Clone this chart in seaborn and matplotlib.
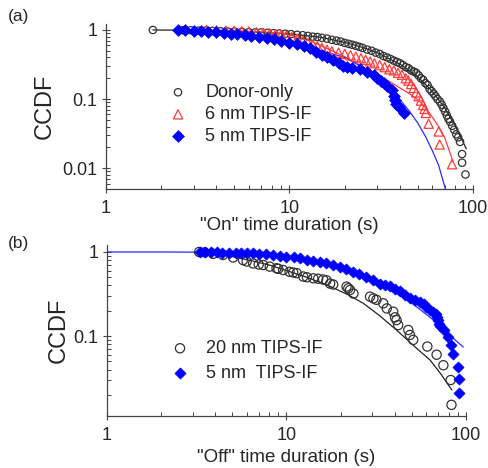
import matplotlib
matplotlib.use("Agg")
import matplotlib.pyplot as plt
import seaborn as sns
import pandas as pd
from matplotlib.ticker import FixedLocator, LogLocator, NullFormatter

# ---------------- data: panel (a) "On" times ----------------
donor_x = [1.8, 2.62, 2.9, 3.2, 3.5, 3.8, 4.2, 4.6, 5.0, 5.5, 6.0, 6.5, 7.0, 7.6, 8.2, 8.8,
           9.5, 10.2, 11.0, 11.8, 12.6, 13.4, 14.2, 15.0, 16.0, 17.0, 18.0, 19.0, 20.0, 21.0,
           22.0, 23.0, 24.0, 25.0, 26.5, 28.0, 29.5, 31.0, 32.5, 34.0, 35.5, 37.0, 38.5, 40.0,
           41.5, 43.0, 44.5, 46.0, 47.5, 49.0, 50.5, 52.0, 53.5, 55.0, 56.5, 58.0, 59.5, 61.0,
           62.5, 64.0, 66.0, 67.5, 69.0, 70.5, 72.0, 73.5, 75.0, 77.0, 79.0, 81.0, 83.0, 85.0,
           87.2, 87.2, 91.0]
donor_y = [1.0, 0.99, 0.99, 0.98, 0.98, 0.97, 0.96, 0.95, 0.95, 0.94, 0.93, 0.92, 0.92, 0.91,
           0.90, 0.89, 0.88, 0.87, 0.85, 0.84, 0.82, 0.80, 0.79, 0.77, 0.75, 0.72, 0.70, 0.68,
           0.65, 0.63, 0.61, 0.59, 0.57, 0.55, 0.52, 0.50, 0.47, 0.45, 0.42, 0.40, 0.38, 0.36,
           0.345, 0.33, 0.31, 0.29, 0.28, 0.26, 0.25, 0.24, 0.22, 0.20, 0.19, 0.17, 0.16, 0.14,
           0.13, 0.12, 0.11, 0.10, 0.092, 0.083, 0.074, 0.066, 0.058, 0.052, 0.047, 0.041,
           0.036, 0.031, 0.028, 0.024, 0.016, 0.012, 0.0081]
donor_fit_x = [1.8, 3, 5, 8, 10, 15, 20, 25, 30, 40, 50, 60, 70, 80, 92]
donor_fit_y = [1.0, 0.99, 0.96, 0.91, 0.88, 0.78, 0.66, 0.56, 0.47, 0.32, 0.21, 0.13, 0.075, 0.041, 0.019]

tips6_x = [3.54, 4.0, 4.5, 5.0, 5.5, 6.0, 6.6, 7.2, 7.8, 8.4, 9.0, 9.6, 10.3, 11.0, 11.8, 12.6,
           13.4, 14.2, 15.0, 16.0, 17.0, 18.5, 20.0, 21.5, 23.0, 24.5, 26.0, 27.5, 29.0, 31.0,
           33.0, 35.0, 37.0, 39.0, 41.0, 43.0, 44.5, 46.0, 47.5, 49.0, 50.5, 52.0, 53.5, 54.5,
           55.3, 57.3, 65.0, 65.8, 76.9]
tips6_y = [1.0, 0.99, 0.98, 0.97, 0.96, 0.95, 0.93, 0.91, 0.89, 0.87, 0.85, 0.82, 0.79, 0.75,
           0.70, 0.65, 0.61, 0.58, 0.55, 0.52, 0.49, 0.47, 0.45, 0.43, 0.41, 0.39, 0.37, 0.35,
           0.33, 0.31, 0.29, 0.27, 0.26, 0.24, 0.225, 0.20, 0.185, 0.165, 0.145, 0.125, 0.11,
           0.095, 0.082, 0.072, 0.063, 0.044, 0.034, 0.022, 0.0114]
tips6_fit_x = [3.54, 5, 8, 10, 13, 17, 20, 25, 30, 35, 40, 45, 50, 55, 60, 65, 70, 77.9]
tips6_fit_y = [1.0, 0.98, 0.92, 0.85, 0.70, 0.50, 0.41, 0.29, 0.22, 0.18, 0.145, 0.12, 0.098,
               0.075, 0.055, 0.040, 0.028, 0.0124]

tips5_x = [2.48, 2.7, 3.0, 3.3, 3.6, 4.0, 4.4, 4.8, 5.2, 5.7, 6.2, 6.8, 7.5, 8.2, 9.0, 10.0,
           11.0, 12.0, 13.0, 14.0, 15.0, 16.0, 17.3, 18.5, 19.5, 20.6, 22.0, 24.3, 26.4, 28.7,
           30.0, 31.5, 32.6, 34.0, 36.2, 36.9, 37.5, 38.0, 39.5, 41.9]
tips5_y = [1.0, 0.99, 0.98, 0.97, 0.95, 0.93, 0.91, 0.88, 0.86, 0.84, 0.82, 0.80, 0.77, 0.73,
           0.69, 0.65, 0.62, 0.58, 0.54, 0.48, 0.43, 0.40, 0.37, 0.33, 0.30, 0.29, 0.28, 0.27,
           0.25, 0.22, 0.20, 0.18, 0.169, 0.155, 0.135, 0.11, 0.097, 0.085, 0.077, 0.063]
tips5_fit_x = [2.48, 4, 6, 8, 10, 15, 20, 25, 30, 35, 40, 45, 50, 55, 60, 65, 70.7]
tips5_fit_y = [1.0, 0.95, 0.86, 0.76, 0.67, 0.50, 0.40, 0.29, 0.21, 0.14, 0.098, 0.067, 0.045,
               0.029, 0.018, 0.011, 0.005]

# ---------------- data: panel (b) "Off" times ----------------
off20_x = [3.26, 3.5, 3.9, 4.43, 5.04, 5.73, 6.0, 6.52, 7.0, 7.41, 8.07, 8.8, 9.0, 9.58, 10.4,
           10.9, 11.4, 12.4, 13.0, 14.1, 15.0, 16.0, 16.7, 17.5, 18.2, 21.6, 22.1, 22.6, 23.6,
           29.2, 30.5, 31.7, 34.6, 36.2, 39.3, 40.2, 41.0, 41.9, 47.7, 48.7, 50.8, 60.9, 68.6,
           74.8, 82.2, 83.0]
off20_y = [1.0, 0.99, 0.95, 0.92, 0.86, 0.80, 0.77, 0.73, 0.71, 0.70, 0.67, 0.64, 0.63, 0.61,
           0.58, 0.57, 0.56, 0.51, 0.50, 0.486, 0.48, 0.47, 0.46, 0.42, 0.41, 0.387, 0.37, 0.353,
           0.32, 0.294, 0.28, 0.27, 0.245, 0.213, 0.195, 0.167, 0.155, 0.135, 0.118, 0.103, 0.09,
           0.075, 0.06, 0.045, 0.030, 0.0152]
off20_fit_x = [3.26, 4, 5, 6.5, 8, 10, 13, 17.5, 22, 26.8, 33, 41, 50, 63, 72, 83.4]
off20_fit_y = [1.0, 0.95, 0.88, 0.78, 0.70, 0.60, 0.50, 0.39, 0.31, 0.245, 0.175, 0.118, 0.08,
               0.052, 0.036, 0.0228]

off5_x = [3.28, 3.5, 3.8, 4.1, 4.4, 4.8, 5.2, 5.6, 6.0, 6.5, 7.0, 7.7, 8.4, 9.2, 10.0, 11.0,
          11.9, 13.0, 14.0, 15.3, 16.7, 18.2, 19.8, 21.5, 23.5, 25.5, 27.9, 30.5, 33.2, 35.5,
          37.7, 40.0, 42.8, 45.5, 48.7, 52.0, 55.2, 58.0, 60.1, 63.0, 65.5, 68.0, 69.0, 70.0,
          71.0, 71.5, 75.0, 79.6, 83.0, 84.9, 90.0, 92.0, 92.0]
off5_y = [1.0, 1.0, 0.99, 0.99, 0.98, 0.98, 0.97, 0.97, 0.96, 0.96, 0.95, 0.94, 0.92, 0.90,
          0.88, 0.86, 0.84, 0.81, 0.79, 0.76, 0.73, 0.70, 0.67, 0.62, 0.58, 0.55, 0.51, 0.46,
          0.42, 0.40, 0.39, 0.36, 0.34, 0.31, 0.28, 0.27, 0.256, 0.24, 0.223, 0.205, 0.195,
          0.185, 0.17, 0.155, 0.14, 0.13, 0.118, 0.098, 0.079, 0.062, 0.043, 0.031, 0.0208]
off5_fit_x = [1, 2, 3, 5, 8, 10, 15, 20, 25, 30, 35, 44.8, 55, 65.8, 80, 96.6]
off5_fit_y = [1.0, 1.0, 0.995, 0.97, 0.91, 0.87, 0.74, 0.62, 0.52, 0.44, 0.38, 0.29, 0.21,
              0.155, 0.105, 0.074]

x_ticks = [1, 10, 100]
x_tick_labels = ["1", "10", "100"]
y_ticks_a = [0.01, 0.1, 1]
y_tick_labels_a = ["0.01", "0.1", "1"]
y_ticks_b = [0.1, 1]
y_tick_labels_b = ["0.1", "1"]

# ---------------- styling ----------------
sns.set_style("white")
plt.rcParams["font.family"] = ["Liberation Sans", "DejaVu Sans"]

W, H = 489, 468
fig = plt.figure(figsize=(W / 100, H / 100), dpi=100)
fig.patch.set_facecolor("white")


def px_axes(l, t, r, b):
    return fig.add_axes([l / W, 1 - b / H, (r - l) / W, (b - t) / H])


axA = px_axes(106, 24, 473, 189)
axB = px_axes(107, 245, 466, 416)

BLACK = "#333333"
RED = "#ff3b3b"
BLUE = "#0000ff"
LBLUE = "#2b2bff"


def style_axis(ax, yticks, ylabels, ylim):
    ax.set_xscale("log")
    ax.set_yscale("log")
    ax.set_xlim(1, 100)
    ax.set_ylim(*ylim)
    for s in ["top", "right"]:
        ax.spines[s].set_visible(False)
    for s in ["left", "bottom"]:
        ax.spines[s].set_color("#444444")
        ax.spines[s].set_linewidth(0.9)
    ax.xaxis.set_major_locator(FixedLocator(x_ticks))
    ax.set_xticklabels(x_tick_labels)
    ax.xaxis.set_minor_locator(LogLocator(base=10, subs=range(2, 10)))
    ax.xaxis.set_minor_formatter(NullFormatter())
    ax.yaxis.set_major_locator(FixedLocator(yticks))
    ax.set_yticklabels(ylabels)
    ax.yaxis.set_minor_locator(LogLocator(base=10, subs=range(2, 10)))
    ax.yaxis.set_minor_formatter(NullFormatter())
    ax.tick_params(which="major", direction="inout", length=6, width=0.8,
                   color="#444444", labelsize=13, pad=3)
    ax.tick_params(axis="x", which="major", pad=5)
    ax.tick_params(which="minor", direction="in", length=3, width=0.7, color="#444444")
    ax.tick_params(axis="x", which="both", bottom=True)
    ax.tick_params(axis="y", which="both", left=True)


style_axis(axA, y_ticks_a, y_tick_labels_a, (0.005, 1.22))
style_axis(axB, y_ticks_b, y_tick_labels_b, (0.0112, 1.21))

# ---------------- panel (a) ----------------
sns.lineplot(x=donor_fit_x, y=donor_fit_y, ax=axA, color="#222222", lw=0.9,
             estimator=None, sort=False, legend=False)
sns.lineplot(x=tips6_fit_x, y=tips6_fit_y, ax=axA, color=RED, lw=0.9,
             estimator=None, sort=False, legend=False)
sns.lineplot(x=tips5_fit_x, y=tips5_fit_y, ax=axA, color=LBLUE, lw=0.9,
             estimator=None, sort=False, legend=False)
sns.scatterplot(x=donor_x, y=donor_y, ax=axA, marker="o", s=28, facecolor="none",
                edgecolor=BLACK, linewidth=0.9, label="Donor-only", zorder=3)
sns.scatterplot(x=tips6_x, y=tips6_y, ax=axA, marker="^", s=44, facecolor="none",
                edgecolor=RED, linewidth=0.9, label="6 nm TIPS-IF", zorder=3)
sns.scatterplot(x=tips5_x, y=tips5_y, ax=axA, marker="D", s=36, color=BLUE,
                edgecolor=BLUE, linewidth=0.5, label="5 nm TIPS-IF", zorder=4)

axA.set_xlabel('"On" time duration (s)', fontsize=13.5, labelpad=2)
axA.set_ylabel("CCDF", fontsize=17)
axA.yaxis.set_label_coords((45 - 106) / (473 - 106), 0.5)
axA.xaxis.set_label_coords(0.5, -(225 - 189) / (189 - 24))
axA.xaxis.label.set_va("center")
axA.yaxis.label.set_va("center")

legA = axA.legend(loc="upper left", bbox_to_anchor=(169 / W, 1 - 84 / H),
                  bbox_transform=fig.transFigure, frameon=False, fontsize=13,
                  borderpad=0, borderaxespad=0, handlelength=1.0, handletextpad=1.0,
                  labelspacing=0.28)

# ---------------- panel (b) ----------------
sns.lineplot(x=off20_fit_x, y=off20_fit_y, ax=axB, color="#222222", lw=0.9,
             estimator=None, sort=False, legend=False)
sns.lineplot(x=off5_fit_x, y=off5_fit_y, ax=axB, color=LBLUE, lw=0.9,
             estimator=None, sort=False, legend=False)
sns.scatterplot(x=off20_x, y=off20_y, ax=axB, marker="o", s=44, facecolor="none",
                edgecolor=BLACK, linewidth=0.9, label="20 nm TIPS-IF", zorder=3)
sns.scatterplot(x=off5_x, y=off5_y, ax=axB, marker="D", s=32, color=BLUE,
                edgecolor=BLUE, linewidth=0.5, label="5 nm  TIPS-IF", zorder=4)

axB.set_xlabel('"Off" time duration (s)', fontsize=13.5)
axB.set_ylabel("CCDF", fontsize=17)
axB.yaxis.set_label_coords((59 - 107) / (466 - 107), 0.5)
axB.xaxis.set_label_coords(0.5, -(457 - 416) / (416 - 245))
axB.xaxis.label.set_va("center")
axB.yaxis.label.set_va("center")

legB = axB.legend(loc="upper left", bbox_to_anchor=(171 / W, 1 - 340 / H),
                  bbox_transform=fig.transFigure, frameon=False, fontsize=13,
                  borderpad=0, borderaxespad=0, handlelength=1.0, handletextpad=0.95,
                  labelspacing=0.42)

fig.text(8 / W, 1 - 16 / H, "(a)", fontsize=12.5, va="center", ha="left")
fig.text(8 / W, 1 - 243 / H, "(b)", fontsize=12.5, va="center", ha="left")

fig.savefig("out.png", dpi=100, facecolor="white")
